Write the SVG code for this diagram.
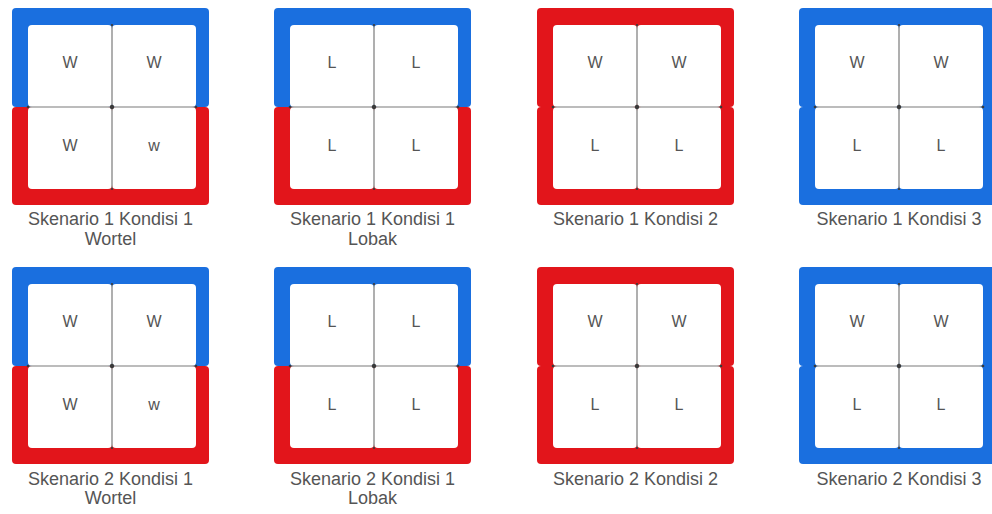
<svg xmlns="http://www.w3.org/2000/svg" xmlns:xlink="http://www.w3.org/1999/xlink" width="992" height="514" viewBox="0 0 992 514">
<style>
.blue{fill:#1a6fdf}
.red{fill:#e2151b}
.cell{fill:#ffffff}
.grid{stroke:#7a7a7a;stroke-width:1.2;fill:none}
.dot{fill:#3a3a3a}
.t{font-family:"Liberation Sans",Arial,sans-serif;font-size:16px;fill:#555;text-anchor:middle}
.lab{font-family:"Liberation Sans",Arial,sans-serif;font-size:18px;fill:#555;text-anchor:middle}
</style>
<defs>
<g id="cells">
<rect class="cell" x="16" y="17" width="84" height="82" rx="4"/>
<rect class="cell" x="100" y="17" width="84" height="82" rx="4"/>
<rect class="cell" x="16" y="99" width="84" height="82" rx="4"/>
<rect class="cell" x="100" y="99" width="84" height="82" rx="4"/>
<line class="grid" x1="100" y1="17" x2="100" y2="181"/>
<line class="grid" x1="16" y1="99" x2="184" y2="99"/>
<circle class="dot" cx="100" cy="99" r="2.2"/>
<circle class="dot" cx="16" cy="99" r="1.3"/>
<circle class="dot" cx="184" cy="99" r="1.3"/>
<circle class="dot" cx="100" cy="17" r="1.1"/>
<circle class="dot" cx="100" cy="181" r="1.1"/>
</g>
</defs>
<g id="connectors"></g>

<g id="s1k1w" transform="translate(12,8)">
<rect class="blue" x="0" y="0" width="197" height="99" rx="4"/>
<rect class="red" x="0" y="99" width="197" height="98" rx="4"/>
<use xlink:href="#cells"/>
<text class="t" x="58" y="60">W</text><text class="t" x="142" y="60">W</text>
<text class="t" x="58" y="143">W</text><text class="t" x="142" y="143" font-size="14">w</text>
<text class="lab" x="98.5" y="217">Skenario 1 Kondisi 1</text>
<text class="lab" x="98.5" y="237">Wortel</text>
</g>

<g id="s1k1l" transform="translate(274,8)">
<rect class="blue" x="0" y="0" width="197" height="99" rx="4"/>
<rect class="red" x="0" y="99" width="197" height="98" rx="4"/>
<use xlink:href="#cells"/>
<text class="t" x="58" y="60">L</text><text class="t" x="142" y="60">L</text>
<text class="t" x="58" y="143">L</text><text class="t" x="142" y="143">L</text>
<text class="lab" x="98.5" y="217">Skenario 1 Kondisi 1</text>
<text class="lab" x="98.5" y="237">Lobak</text>
</g>

<g id="s1k2" transform="translate(537,8)">
<rect class="red" x="0" y="0" width="197" height="99" rx="4"/>
<rect class="red" x="0" y="99" width="197" height="98" rx="4"/>
<use xlink:href="#cells"/>
<text class="t" x="58" y="60">W</text><text class="t" x="142" y="60">W</text>
<text class="t" x="58" y="143">L</text><text class="t" x="142" y="143">L</text>
<text class="lab" x="98.5" y="217">Skenario 1 Kondisi 2</text>
</g>

<g id="s1k3" transform="translate(799,8)">
<rect class="blue" x="0" y="0" width="197" height="99" rx="4"/>
<rect class="blue" x="0" y="99" width="197" height="98" rx="4"/>
<use xlink:href="#cells"/>
<text class="t" x="58" y="60">W</text><text class="t" x="142" y="60">W</text>
<text class="t" x="58" y="143">L</text><text class="t" x="142" y="143">L</text>
<text class="lab" x="100" y="217">Skenario 1 Kondisi 3</text>
</g>

<g id="s2k1w" transform="translate(12,267)">
<rect class="blue" x="0" y="0" width="197" height="99" rx="4"/>
<rect class="red" x="0" y="99" width="197" height="98" rx="4"/>
<use xlink:href="#cells"/>
<text class="t" x="58" y="60">W</text><text class="t" x="142" y="60">W</text>
<text class="t" x="58" y="143">W</text><text class="t" x="142" y="143" font-size="14">w</text>
<text class="lab" x="98.5" y="218">Skenario 2 Kondisi 1</text>
<text class="lab" x="98.5" y="237">Wortel</text>
</g>

<g id="s2k1l" transform="translate(274,267)">
<rect class="blue" x="0" y="0" width="197" height="99" rx="4"/>
<rect class="red" x="0" y="99" width="197" height="98" rx="4"/>
<use xlink:href="#cells"/>
<text class="t" x="58" y="60">L</text><text class="t" x="142" y="60">L</text>
<text class="t" x="58" y="143">L</text><text class="t" x="142" y="143">L</text>
<text class="lab" x="98.5" y="218">Skenario 2 Kondisi 1</text>
<text class="lab" x="98.5" y="237">Lobak</text>
</g>

<g id="s2k2" transform="translate(537,267)">
<rect class="red" x="0" y="0" width="197" height="99" rx="4"/>
<rect class="red" x="0" y="99" width="197" height="98" rx="4"/>
<use xlink:href="#cells"/>
<text class="t" x="58" y="60">W</text><text class="t" x="142" y="60">W</text>
<text class="t" x="58" y="143">L</text><text class="t" x="142" y="143">L</text>
<text class="lab" x="98.5" y="218">Skenario 2 Kondisi 2</text>
</g>

<g id="s2k3" transform="translate(799,267)">
<rect class="blue" x="0" y="0" width="197" height="99" rx="4"/>
<rect class="blue" x="0" y="99" width="197" height="98" rx="4"/>
<use xlink:href="#cells"/>
<text class="t" x="58" y="60">W</text><text class="t" x="142" y="60">W</text>
<text class="t" x="58" y="143">L</text><text class="t" x="142" y="143">L</text>
<text class="lab" x="100" y="218">Skenario 2 Kondisi 3</text>
</g>
</svg>
